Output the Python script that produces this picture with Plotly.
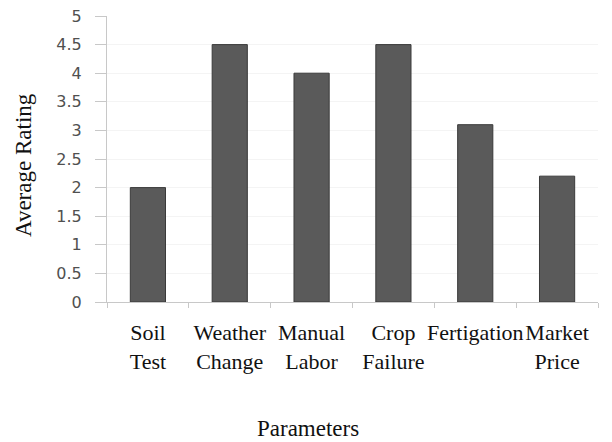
import plotly.graph_objects as go

categories = ["Soil<br>Test", "Weather<br>Change", "Manual<br>Labor", "Crop<br>Failure", "Fertigation", "Market<br>Price"]
ratings = [2.0, 4.5, 4.0, 4.5, 3.1, 2.2]
y_ticks = [0, 0.5, 1, 1.5, 2, 2.5, 3, 3.5, 4, 4.5, 5]

fig = go.Figure(go.Bar(
    x=categories, y=ratings,
    marker=dict(color="#5a5a5a", line=dict(color="#3a3a3a", width=1)),
    width=0.43,
))

serif = "Liberation Serif, Times New Roman, serif"
fig.update_layout(
    width=612, height=442,
    margin=dict(l=107, r=14, t=16, b=140),
    paper_bgcolor="white", plot_bgcolor="white",
    showlegend=False,
    font=dict(family=serif, color="#222"),
    xaxis=dict(
        type="category",
        tickson="boundaries",
        tickangle=0,
        automargin=False,
        ticks="outside", ticklen=5, tickcolor="#c8c8c8",
        showline=True, linecolor="#c8c8c8", linewidth=1,
        showgrid=False,
        tickfont=dict(family=serif, size=22, color="#111"),
        ticklabelstandoff=11,
    ),
    yaxis=dict(
        range=[0, 5], tickvals=y_ticks,
        automargin=False,
        ticks="outside", ticklen=11, tickcolor="#c8c8c8",
        showline=True, linecolor="#c8c8c8", linewidth=1,
        showgrid=True, gridcolor="#f4f4f4",
        zeroline=False,
        tickfont=dict(family="DejaVu Sans, sans-serif", size=16, color="#505050"),
        ticklabelstandoff=10,
    ),
    bargap=0.57,
    annotations=[
        dict(text="Parameters", xref="paper", yref="paper", x=(308 - 107) / (612 - 107 - 14),
             y=-(428 - 302) / (442 - 16 - 140), xanchor="center", yanchor="middle",
             showarrow=False, font=dict(family=serif, size=23, color="#111")),
        dict(text="Average Rating", xref="paper", yref="paper", x=-(107 - 23) / (612 - 107 - 14),
             y=(302 - 165) / (442 - 16 - 140), xanchor="center", yanchor="middle", textangle=-90,
             showarrow=False, font=dict(family=serif, size=23, color="#111")),
    ],
)

fig.write_html("out.html", config={"displayModeBar": False},
               post_script="document.body.style.margin='0';")
